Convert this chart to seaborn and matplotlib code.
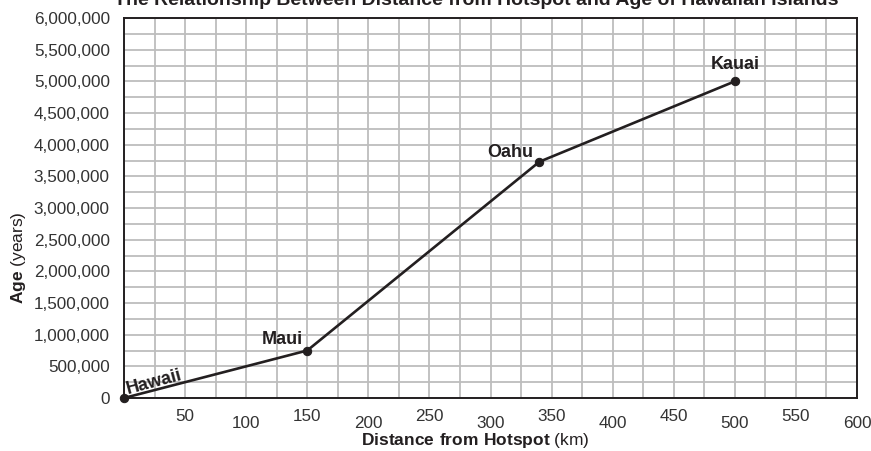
import numpy as np
import pandas as pd
import matplotlib.pyplot as plt
import seaborn as sns

# island data
islands = ["Hawaii", "Maui", "Oahu", "Kauai"]
distance_km = [0, 150, 340, 500]
age_years = [0, 750000, 3730000, 5000000]

x_ticks = list(range(0, 601, 25))
x_labels = ["" if (v == 0 or v % 50) else str(v) for v in x_ticks]
y_ticks = list(range(0, 6000001, 500000))
y_labels = [f"{v:,}" for v in y_ticks]

INK = "#231f20"
GRID = "#bdbdbd"

sns.set_style("white")
plt.rcParams["font.family"] = ["Liberation Sans", "DejaVu Sans"]
plt.rcParams["mathtext.fontset"] = "custom"
plt.rcParams["mathtext.rm"] = "Liberation Sans"
plt.rcParams["mathtext.bf"] = "Liberation Sans:bold"

df = pd.DataFrame({"island": islands, "distance": distance_km, "age": age_years})

fig = plt.figure(figsize=(8.71, 4.51), dpi=100)
ax = fig.add_axes([124 / 871, 1 - 398 / 451, 733 / 871, 380 / 451])

sns.lineplot(data=df, x="distance", y="age", color=INK, linewidth=1.9,
             marker="o", markersize=6, markeredgecolor=INK, ax=ax, zorder=5,
             clip_on=False)

ax.set_xlim(0, 600)
ax.set_ylim(0, 6000000)
ax.set_xticks(x_ticks)
ax.set_xticklabels(x_labels)
ax.set_yticks(y_ticks)
ax.set_yticklabels(y_labels)
ax.set_yticks(np.arange(250000, 6000000, 500000), minor=True)
ax.grid(True, which="both", color=GRID, linewidth=1.3)
ax.set_axisbelow(True)
ax.tick_params(axis="x", which="major", length=6.5, width=1, color=INK,
               labelsize=12.3, labelcolor="#333333")
ax.tick_params(axis="y", which="major", length=7.2, width=1, color=INK,
               labelsize=12.3, labelcolor="#333333", pad=3)
ax.tick_params(axis="y", which="minor", length=4.3, width=1, color=INK)

# staggered x tick labels
for i, tick in enumerate(ax.xaxis.get_major_ticks()):
    if x_ticks[i] % 100 == 50:
        tick.set_pad(1.5)
    else:
        tick.set_pad(6.5)

for s in ax.spines.values():
    s.set_color(INK)
    s.set_linewidth(1.4)
ax.set_xlabel("")
ax.set_ylabel("")

# island labels
ax.text(25, 250000, "Hawaii", rotation=15, ha="center", va="center",
        fontsize=13, fontweight="bold", color=INK)
ax.annotate("Maui", (150, 750000), xytext=(-4, 3), textcoords="offset pixels",
            ha="right", va="bottom", fontsize=13, fontweight="bold", color=INK)
ax.annotate("Oahu", (340, 3730000), xytext=(-6, 1), textcoords="offset pixels",
            ha="right", va="bottom", fontsize=13, fontweight="bold", color=INK)
ax.annotate("Kauai", (500, 5000000), xytext=(0, 8), textcoords="offset pixels",
            ha="center", va="bottom", fontsize=13, fontweight="bold", color=INK)

fig.text(476 / 871, 1 - 5 / 451,
         "The Relationship Between Distance from Hotspot and Age of Hawaiian Islands",
         ha="center", va="baseline", fontsize=14, fontweight="bold", color=INK)
fig.text(475 / 871, 1 - 441 / 451, r"$\bf{Distance\ from\ Hotspot}$ (km)",
         ha="center", va="center", fontsize=12.5, color=INK)
fig.text(18 / 871, 1 - 258 / 451, r"$\bf{Age}$ (years)", rotation=90,
         ha="center", va="center", fontsize=12.5, color=INK)

fig.savefig("out.png", dpi=100)
